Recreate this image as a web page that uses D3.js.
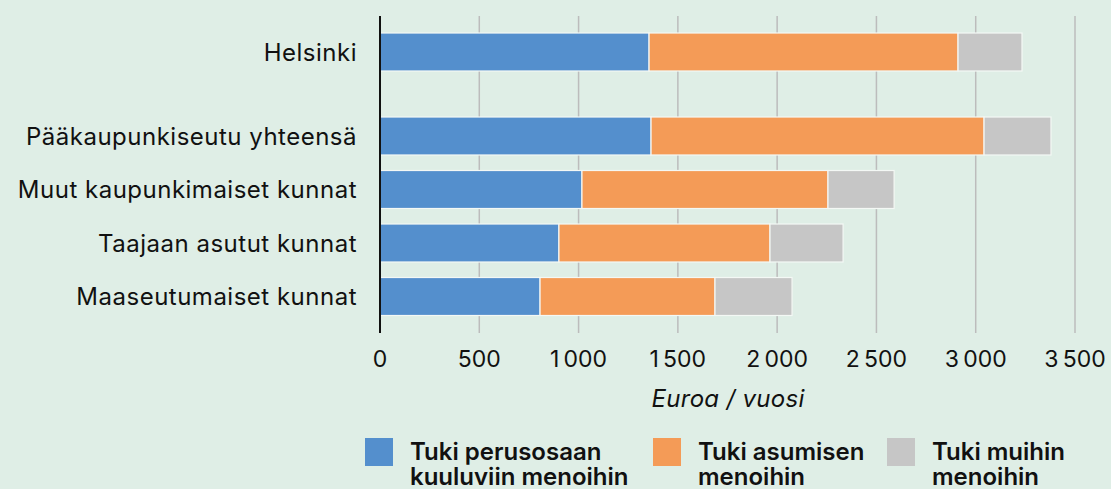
<!DOCTYPE html>
<html>
<head>
<meta charset="utf-8">
<script src="https://cdn.jsdelivr.net/npm/d3@7"></script>
<style>
  html, body { margin: 0; padding: 0; background: #dfeee6; }
  svg { display: block; font-family: Inter, "Noto Sans", sans-serif; }
</style>
</head>
<body>
<svg id="chart" width="1111" height="489"></svg>
<script>
// Data (euroa / vuosi)
const categories = [
  'Helsinki',
  'Pääkaupunkiseutu yhteensä',
  'Muut kaupunkimaiset kunnat',
  'Taajaan asutut kunnat',
  'Maaseutumaiset kunnat'
];
const perusosa = [1355, 1365, 1017, 901, 806];
const asuminen = [1556, 1677, 1239, 1063, 881];
const muut = [322, 337, 333, 368, 388];

const seriesNames = ['Tuki perusosaan\nkuuluviin menoihin', 'Tuki asumisen\nmenoihin', 'Tuki muihin\nmenoihin'];
const seriesColors = ['#548fcd', '#f49b57', '#c6c6c6'];
const xTicks = [0, 500, 1000, 1500, 2000, 2500, 3000, 3500];

// Build rows for the stack layout
const rows = categories.map((c, i) => ({
  name: c, s0: perusosa[i], s1: asuminen[i], s2: muut[i]
}));
const stack = d3.stack().keys(['s0', 's1', 's2']);
const layers = stack(rows);

const svg = d3.select('#chart');

// Scales
const x = d3.scaleLinear().domain([0, 3500]).range([380, 1075]);
const y = d3.scaleBand()
  .domain(categories)
  .range([55.75, 323.25])
  .paddingInner(0.29)
  .paddingOuter(0.145);
// Helsinki sits apart from the regional groups
const helsinkiLift = 30.5;
const rowY = (name) => y(name) - (name === categories[0] ? helsinkiLift : 0);

const plotTop = 16, plotBottom = 333;

// Grid lines
svg.append('g')
  .selectAll('line')
  .data(xTicks.slice(1))
  .join('line')
  .attr('x1', (d) => x(d)).attr('x2', (d) => x(d))
  .attr('y1', plotTop).attr('y2', plotBottom)
  .attr('stroke', '#bcbcbc')
  .attr('stroke-width', 1.5);

// Bars
svg.append('g')
  .selectAll('g')
  .data(layers)
  .join('g')
  .attr('fill', (d, i) => seriesColors[i])
  .selectAll('rect')
  .data((d) => d)
  .join('rect')
  .attr('x', (d) => x(d[0]))
  .attr('y', (d) => rowY(d.data.name))
  .attr('width', (d) => x(d[1]) - x(d[0]))
  .attr('height', y.bandwidth())
  .attr('stroke', '#f4f8f5')
  .attr('stroke-width', 1.2);

// Zero axis line
svg.append('line')
  .attr('x1', x(0)).attr('x2', x(0))
  .attr('y1', plotTop).attr('y2', plotBottom)
  .attr('stroke', '#111')
  .attr('stroke-width', 2);

// Category labels
svg.append('g')
  .selectAll('text')
  .data(categories)
  .join('text')
  .attr('x', 357)
  .attr('y', (d) => rowY(d) + y.bandwidth() / 2)
  .attr('dy', '0.36em')
  .attr('text-anchor', 'end')
  .attr('font-size', 24)
  .attr('letter-spacing', 0.5)
  .attr('fill', '#111')
  .text((d) => d);

// Tick labels
const fi = d3.formatLocale({ decimal: ',', thousands: '\u2009', grouping: [3], currency: ['', ' €'] });
const fmt = fi.format(',d');
svg.append('g')
  .selectAll('text')
  .data(xTicks)
  .join('text')
  .attr('x', (d) => x(d))
  .attr('y', 367)
  .attr('text-anchor', 'middle')
  .attr('font-size', 23)
  .attr('fill', '#111')
  .text((d) => fmt(d));

// Axis title
svg.append('text')
  .attr('x', 728)
  .attr('y', 407)
  .attr('text-anchor', 'middle')
  .attr('font-size', 24)
  .attr('letter-spacing', 0.3)
  .attr('font-style', 'italic')
  .attr('fill', '#111')
  .text('Euroa / vuosi');

// Legend
const legendX = [365, 653, 887];
const legend = svg.append('g')
  .selectAll('g')
  .data(seriesNames)
  .join('g')
  .attr('transform', (d, i) => 'translate(' + legendX[i] + ',438)');
legend.append('rect')
  .attr('width', 28).attr('height', 28)
  .attr('fill', (d, i) => seriesColors[i]);
legend.append('text')
  .attr('x', 45)
  .attr('y', 22)
  .attr('font-size', 24)
  .attr('font-weight', 600)
  .attr('fill', '#111')
  .selectAll('tspan')
  .data((d) => d.split('\n'))
  .join('tspan')
  .attr('x', 45)
  .attr('dy', (d, i) => i ? 25 : 0)
  .text((d) => d);
</script>
</body>
</html>
